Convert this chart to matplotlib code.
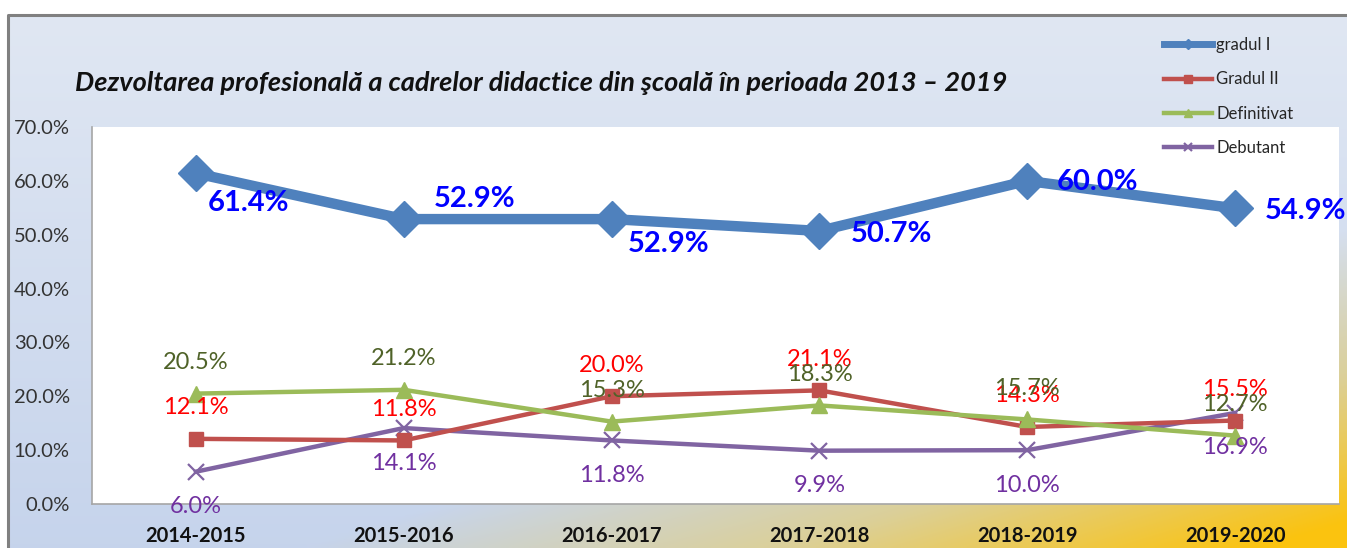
import numpy as np
import matplotlib
matplotlib.use("Agg")
import matplotlib.pyplot as plt
from matplotlib.lines import Line2D

# School years on the x axis
years = ["2014-2015", "2015-2016", "2016-2017", "2017-2018", "2018-2019", "2019-2020"]

# Share of teaching staff per professional grade (percent)
gradul_1 = [61.4, 52.9, 52.9, 50.7, 60.0, 54.9]
gradul_2 = [12.1, 11.8, 20.0, 21.1, 14.3, 15.5]
definitivat = [20.5, 21.2, 15.3, 18.3, 15.7, 12.7]
debutant = [6.0, 14.1, 11.8, 9.9, 10.0, 16.9]

series_names = ["gradul I", "Gradul II", "Definitivat", "Debutant"]
y_ticks = [0, 10, 20, 30, 40, 50, 60, 70]

FONT = "Lato"
W, H = 1347, 548
fig = plt.figure(figsize=(W / 100, H / 100), dpi=100)
fig.patch.set_facecolor("white")

# ---- chart-area background: bluish gradient fading to gold in the lower right
bg = fig.add_axes([0, 0, 1, 1], zorder=0)
bg.set_xlim(0, W)
bg.set_ylim(H, 0)
bg.axis("off")
gx, gy = np.meshgrid(np.linspace(0, 1, 400), np.linspace(0, 1, 160))
top_blue = np.array([0.878, 0.906, 0.953])
low_blue = np.array([0.776, 0.831, 0.925])
beige = np.array([0.860, 0.815, 0.600])
gold = np.array([0.985, 0.765, 0.060])
base = top_blue[None, None, :] * (1 - gy[..., None]) + low_blue[None, None, :] * gy[..., None]
t = np.clip((gx + 1.3 * gy - 1.52) / 0.72, 0, 1)[..., None]
t1 = np.clip(t * 2, 0, 1)
t2 = np.clip(t * 2 - 1, 0, 1)
mid = base * (1 - t1) + beige * t1
img = mid * (1 - t2) + gold * t2
bg.imshow(img, extent=[9, W, H, 16], aspect="auto", interpolation="bilinear", zorder=0)
bg.plot([8, 8, W], [H, 15, 15], color="#808080", lw=2.2, zorder=1, solid_capstyle="butt")

# ---- plot area
ax = fig.add_axes([92 / W, 1 - 504 / H, (1339 - 92) / W, (504 - 127) / H], zorder=2)
ax.set_facecolor("white")
x = np.arange(len(years))

styles = [
    dict(color="#4f81bd", lw=7.5, marker="D", ms=18, zorder=5),
    dict(color="#c0504d", lw=3.2, marker="s", ms=10, zorder=4),
    dict(color="#9bbb59", lw=3.2, marker="^", ms=11, zorder=4),
    dict(color="#8064a2", lw=3.2, marker="x", ms=11, mew=1.6, zorder=3),
]
all_series = [gradul_1, gradul_2, definitivat, debutant]
for vals, st, name in zip(all_series, styles, series_names):
    ax.plot(x, vals, label=name, **st)

ax.set_xlim(-0.5, len(years) - 0.5)
ax.set_ylim(0, 70)
ax.set_yticks(y_ticks)
ax.set_yticklabels([f"{v:.1f}%" for v in y_ticks], fontsize=14.5, family=FONT, color="#333333")
ax.set_xticks(x)
ax.set_xticklabels(years, fontsize=14.5, family=FONT, fontweight="bold", color="#111111")
ax.tick_params(axis="y", length=0, pad=16)
ax.tick_params(axis="x", length=0, pad=16)
for side in ["top", "right"]:
    ax.spines[side].set_visible(False)
for side in ["left", "bottom"]:
    ax.spines[side].set_color("#a6a6a6")
    ax.spines[side].set_linewidth(1.2)

# ---- data labels
blue_offsets = [(53, -30), (71, 20), (57, -25), (72, -3), (70, -1), (70, -3)]
for xi, v, off in zip(x, gradul_1, blue_offsets):
    ax.annotate(f"{v:.1f}%", (xi, v), xytext=off, textcoords="offset pixels",
                ha="center", va="center", fontsize=21, fontweight="bold",
                family=FONT, color="#0000ff", zorder=8, annotation_clip=False)

small_labels = [
    (gradul_2, "#ff0000", 31),
    (definitivat, "#4f6228", 31),
    (debutant, "#7030a0", -35),
]
for vals, col, dy in small_labels:
    for xi, v in zip(x, vals):
        ax.annotate(f"{v:.1f}%", (xi, v), xytext=(0, dy), textcoords="offset pixels",
                    ha="center", va="center", fontsize=17, family=FONT,
                    color=col, zorder=8, annotation_clip=False)

# ---- title
fig.text(75 / W, 1 - 83 / H, "Dezvoltarea profesională a cadrelor didactice din şcoală în perioada 2013 – 2019",
         ha="left", va="center", fontsize=19.5, fontstyle="italic", fontweight="bold",
         family=FONT, color="#111111", zorder=10)

# ---- legend
handles = [Line2D([], [], color=st["color"], lw=st["lw"] if i else 5, marker=st["marker"],
                  ms=(6 if i else 5), mew=st.get("mew", 1)) for i, st in enumerate(styles)]
leg = fig.legend(handles, series_names, loc="upper left",
                 bbox_to_anchor=(1149 / W, 1 - 22 / H), frameon=False,
                 prop=dict(family=FONT, size=12), labelcolor="#262626",
                 handlelength=2.9, handletextpad=0.25, labelspacing=1.1)
leg.set_zorder(10)

fig.savefig("out.png", dpi=100)
